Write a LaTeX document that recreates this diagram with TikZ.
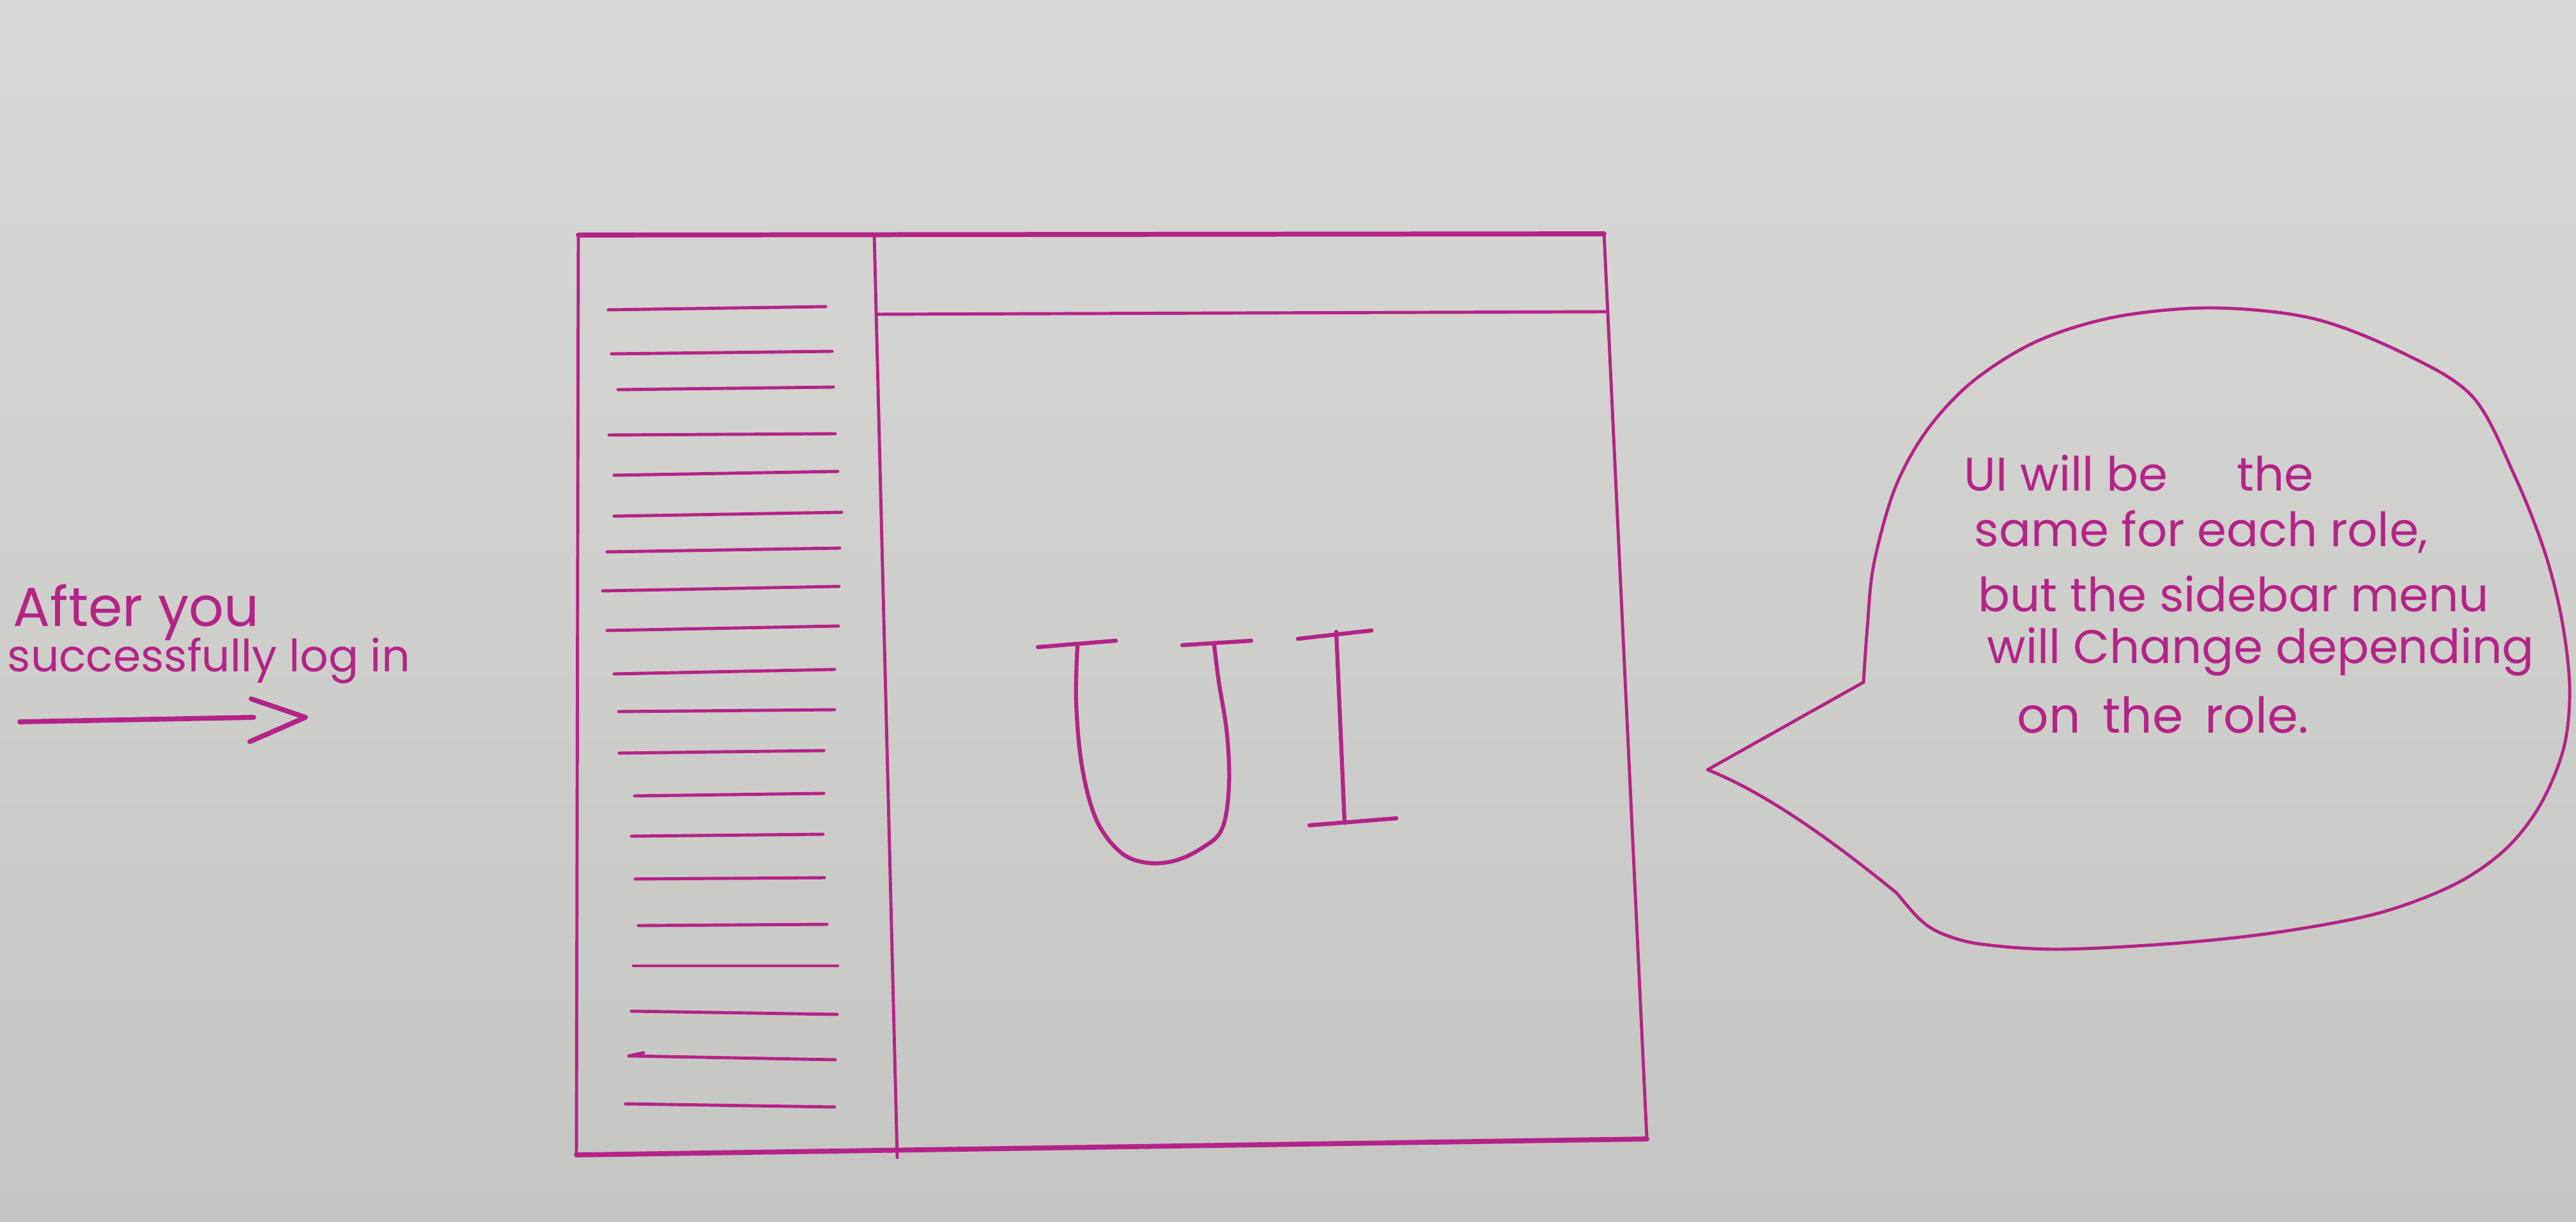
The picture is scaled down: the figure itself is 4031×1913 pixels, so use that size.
\documentclass[tikz,border=0pt]{standalone}
\usepackage{fontspec}
\setmainfont{Poppins}
\definecolor{ink}{RGB}{180,36,136}
\definecolor{paperTop}{RGB}{216,216,213}
\definecolor{paperBot}{RGB}{197,198,194}
\begin{document}
\begin{tikzpicture}[x=0.01cm,y=-0.01cm,
  pen/.style={draw=ink, line cap=round, line join=round, line width=1.4pt},
  thickpen/.style={pen, line width=2.2pt},
  letterpen/.style={pen, line width=1.8pt},
  hand/.style={text=ink, inner sep=0pt, anchor=base west}]
\shade[top color=paperTop, bottom color=paperBot] (0,0) rectangle (4031,1913);
\useasboundingbox (0,0) rectangle (4031,1913);

% left note and arrow
\node[hand, font=\fontsize{24.5}{28}\selectfont] (after) at (20,980) {After you};
\node[hand, font=\fontsize{19.8}{22}\selectfont] (login) at (11,1051) {successfully log in};
\coordinate (arrS) at (31,1130);
\coordinate (arrE) at (397,1123);
\coordinate (headA) at (393,1094);
\coordinate (headT) at (478,1123);
\coordinate (headB) at (391,1161);
\draw[thickpen] (arrS) -- (arrE);
\draw[thickpen] (headA) -- (headT) -- (headB);

% window frame
\coordinate (TL) at (905,368);
\coordinate (TR) at (2510,366);
\coordinate (BL) at (902,1808);
\coordinate (BR) at (2577,1783);
\coordinate (DT) at (1368,368);
\coordinate (DB) at (1404,1812);
\coordinate (HL) at (1372,492);
\coordinate (HR) at (2512,488);
\draw[thickpen] (TL) -- (TR);
\draw[pen] (TR) -- (BR);
\draw[thickpen] (BL) -- (BR);
\draw[pen] (TL) -- (BL);
\draw[pen] (DT) -- (DB);
\draw[pen] (HL) -- (HR);

% sidebar menu lines
\foreach \xa/\ya/\xb/\yb in {
  952/485/1292/480, 957/554/1302/550, 967/610/1304/606, 953/681/1307/679,
  961/744/1311/738, 961/808/1317/802, 950/864/1314/858, 943/925/1313/918,
  950/987/1312/980, 961/1055/1306/1048, 968/1114/1306/1111, 969/1179/1289/1175,
  993/1246/1289/1242, 988/1309/1288/1306, 994/1376/1290/1374, 999/1449/1294/1447,
  991/1512/1311/1512, 988/1583/1310/1588, 984/1653/1307/1659, 979/1728/1306/1733}
  \draw[pen] (\xa,\ya) -- (\xb,\yb);
\draw[pen] (984,1653) -- (1007,1648);

% big hand-drawn UI
\draw[letterpen] (1624,1013) -- (1746,1003);
\draw[letterpen] plot[smooth, tension=0.6] coordinates {(1686,1010) (1684,1099) (1693,1199) (1715,1282) (1751,1332) (1790,1350) (1836,1348) (1880,1328) (1912,1298) (1923,1232) (1920,1149) (1907,1066) (1900,1010)};
\draw[letterpen] (1850,1010) -- (1958,1003);
\draw[letterpen] (2031,1000) -- (2146,987);
\draw[letterpen] (2091,989) -- (2104,1288);
\draw[letterpen] (2049,1292) -- (2185,1281);

% speech bubble
\coordinate (tailUp) at (2916,1068);
\coordinate (tailLow) at (2968,1398);
\coordinate (tailTip) at (2672,1205);
\draw[pen] plot[smooth, tension=0.55] coordinates {(2916,1068) (2922,982) (2932,884) (2965,765) (3015,674) (3087,597) (3188,534) (3311,496) (3462,482) (3621,499) (3765,555) (3870,622) (3935,745) (3981,861) (4008,966) (4021,1075) (4012,1170) (3975,1260) (3920,1330) (3840,1385) (3720,1430) (3560,1460) (3400,1477) (3220,1486) (3100,1478) (3040,1462) (3005,1440) (2968,1398)};
\draw[pen] (tailLow) .. controls (2860,1310) and (2760,1240) .. (tailTip) -- (tailUp);

\begin{scope}[every node/.style={hand, font=\fontsize{21}{26}\selectfont}]
\node (b1) at (3073,768) {UI will be};
\node (b1b) at (3500,768) {the};
\node (b2) at (3089,856) {same for each role,};
\node (b3) at (3095,957) {but the sidebar menu};
\node (b4) at (3109,1038) {will Change depending};
\node[font=\fontsize{22}{26}\selectfont] (b5) at (3156,1147) {on\hspace{0.45em}the\hspace{0.45em}role.};
\end{scope}
\end{tikzpicture}
\end{document}
